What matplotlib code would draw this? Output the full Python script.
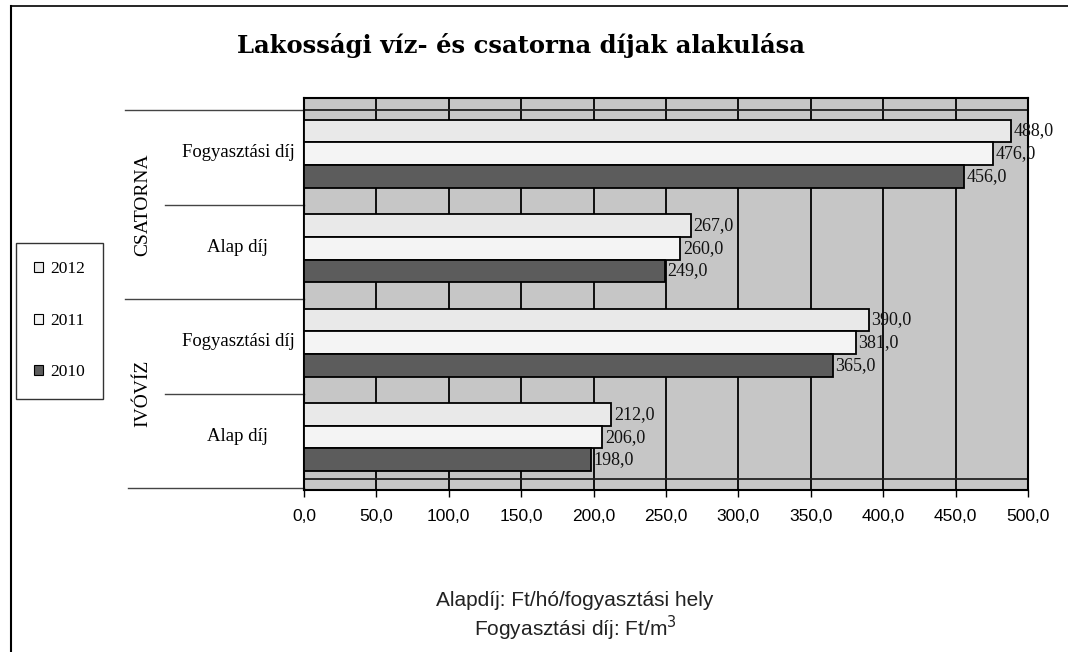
import matplotlib
matplotlib.use("Agg")
import matplotlib.pyplot as plt
from matplotlib.lines import Line2D
from matplotlib.patches import Patch
import matplotlib.transforms as mtransforms
import numpy as np

# ---- data ----
categories = ["Alap díj", "Fogyasztási díj", "Alap díj", "Fogyasztási díj"]  # bottom -> top
groups = ["IVÓVÍZ", "CSATORNA"]
years = ["2012", "2011", "2010"]
v2012 = [212.0, 390.0, 267.0, 488.0]
v2011 = [206.0, 381.0, 260.0, 476.0]
v2010 = [198.0, 365.0, 249.0, 456.0]
xticks = [0, 50, 100, 150, 200, 250, 300, 350, 400, 450, 500]
title = "Lakossági víz- és csatorna díjak alakulása"
note1 = "Alapdíj: Ft/hó/fogyasztási hely"
note2 = "Fogyasztási díj: Ft/m$^3$"

W, H = 1068, 652
fig = plt.figure(figsize=(W / 100, H / 100), dpi=100)
fig.patch.set_facecolor("white")

def fx(px):
    return px / W

def fy(py):
    return 1 - py / H

ax = fig.add_axes([fx(304), fy(490), fx(1028) - fx(304), (490 - 98) / H])
ax.set_facecolor("#c6c6c6")

series = [v2012, v2011, v2010]
colors = ["#e9e9e9", "#f4f4f4", "#5c5c5c"]
bar_h = 0.24
offsets = [0.28, 0.04, -0.20]
y = np.arange(len(categories))
serif = "Liberation Serif"

for vals, col, off, yr in zip(series, colors, offsets, years):
    bars = ax.barh(y + off, vals, height=bar_h, color=col, edgecolor="black",
                   linewidth=1.3, zorder=3, label=yr)
    for b, v in zip(bars, vals):
        ax.annotate(f"{v:.1f}".replace(".", ","),
                    (b.get_width(), b.get_y() + b.get_height() / 2),
                    xytext=(2, 0), textcoords="offset points",
                    ha="left", va="center", fontsize=13, family=serif,
                    color="#111111", zorder=5)

ax.set_xlim(0, 500)
ax.set_ylim(-0.52, 3.63)
ax.set_xticks(xticks)
ax.set_xticklabels([f"{t:.1f}".replace(".", ",") for t in xticks],
                   family="Liberation Sans", fontsize=12.5)
ax.tick_params(axis="x", length=5, width=1.0, direction="out", pad=9)
ax.set_yticks([])
ax.grid(axis="x", color="black", linewidth=1.3, zorder=1)
ax.axhline(3.5, color="#222222", linewidth=1.3, zorder=2)
ax.axhline(-0.4, color="#222222", linewidth=1.3, zorder=2)
for s in ["top", "right", "bottom", "left"]:
    ax.spines[s].set_linewidth(1.5)
    ax.spines[s].set_color("black")

# separator lines on the left (multi-level category axis)
trans = mtransforms.blended_transform_factory(ax.transAxes, ax.transData)
sep_specs = [(3.5, 125), (2.5, 165), (1.5, 125), (0.5, 165), (-0.5, 128)]
for yy, px in sep_specs:
    ax.plot([(px - 304) / 724, 0], [yy, yy], transform=trans, color="#444444",
            linewidth=1.0, clip_on=False)

for yi, cat in zip(y, categories):
    ax.text((238 - 304) / 724, yi + 0.05, cat, transform=trans, ha="center",
            va="center", fontsize=13.5, family=serif)

for gi, g in enumerate(groups):
    ax.text((143 - 304) / 724, 2 * gi + 0.5, g, transform=trans, rotation=90,
            ha="center", va="center", fontsize=14, family=serif)

# legend
handles = [Patch(facecolor=c, edgecolor="black", linewidth=0.8) for c in colors]
leg = fig.legend(handles, years, loc="upper left",
                 bbox_to_anchor=(fx(16), fy(243)), frameon=True, fancybox=False,
                 prop={"family": serif, "size": 12.5}, handlelength=0.5,
                 handleheight=0.5, handletextpad=0.4, labelspacing=2.05,
                 borderpad=1.05, borderaxespad=0)
leg.get_frame().set_edgecolor("black")
leg.get_frame().set_linewidth(1.0)

fig.text(fx(521), fy(45), title, ha="center", va="center", fontsize=17.5,
         fontweight="bold", family="DejaVu Serif")
fig.text(fx(575), fy(600), note1, ha="center", va="center", fontsize=15,
         family="Liberation Sans", color="#222222")
fig.text(fx(575), fy(628), note2, ha="center", va="center", fontsize=15,
         family="Liberation Sans", color="#222222")

# outer frame (left and top edges only)
fig.add_artist(Line2D([fx(11), fx(11)], [fy(6), 0], color="black", linewidth=1.5))
fig.add_artist(Line2D([fx(11), 1], [fy(6), fy(6)], color="black", linewidth=1.2))

fig.savefig("out.png", dpi=100, facecolor="white")
